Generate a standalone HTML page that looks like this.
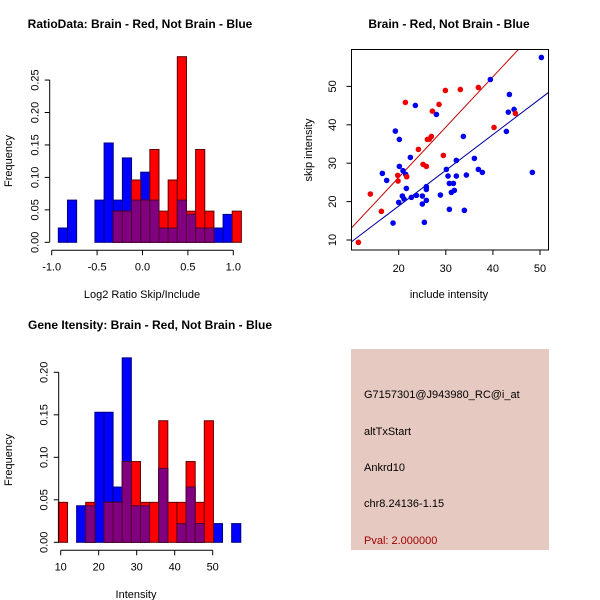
<!DOCTYPE html>
<html><head><meta charset="utf-8"><style>
body{margin:0;background:#fff}
svg{display:block;font-family:"Liberation Sans",Arial,sans-serif}
text{fill:#000}
</style></head><body>
<svg id="c" width="600" height="600" viewBox="0 0 600 600">
<text x="140" y="28" font-size="12" font-weight="bold" text-anchor="middle">RatioData: Brain - Red, Not Brain - Blue</text>
<text x="449" y="28" font-size="12" font-weight="bold" text-anchor="middle">Brain - Red, Not Brain - Blue</text>
<text x="150" y="329" font-size="12" font-weight="bold" text-anchor="middle">Gene Itensity: Brain - Red, Not Brain - Blue</text>
<text x="142" y="298" font-size="11" text-anchor="middle">Log2 Ratio Skip/Include</text>
<text transform="translate(12,161) rotate(-90)" font-size="11" text-anchor="middle">Frequency</text>
<text x="136" y="598" font-size="11" text-anchor="middle">Intensity</text>
<text transform="translate(12,460) rotate(-90)" font-size="11" text-anchor="middle">Frequency</text>
<text x="449" y="298" font-size="11" text-anchor="middle">include intensity</text>
<text transform="translate(312,150) rotate(-90)" font-size="11" text-anchor="middle">skip intensity</text>
<g>
<rect x="351" y="349" width="198" height="201" fill="#e6c9c0"/>
<text x="364" y="398" font-size="11">G7157301@J943980_RC@i_at</text>
<text x="364" y="435" font-size="11">altTxStart</text>
<text x="364" y="471" font-size="11">Ankrd10</text>
<text x="364" y="507" font-size="11">chr8.24136-1.15</text>
<text x="364" y="544" font-size="11" style="fill:#a00000">Pval: 2.000000</text>
</g>
</svg>
<script>
// Ratio histogram data
const ratioStart = -0.927, ratioWidth = 0.1008;
const ratioBlue = [0.022,0.065,0,0,0.065,0.153,0.065,0.130,0.065,0.108,0.065,0.022,0.022,0.065,0.043,0.022,0.022,0.022,0.043,0];
const ratioRed  = [0,0,0,0,0,0,0.048,0.048,0.096,0.065,0.143,0.048,0.096,0.286,0.048,0.143,0.048,0,0,0.048];
const ratioXTicks = [-1.0,-0.5,0.0,0.5,1.0];
const ratioXLabels = ["-1.0","-0.5","0.0","0.5","1.0"];
const ratioYTicks = [0,0.05,0.10,0.15,0.20,0.25];
const ratioYLabels = ["0.00","0.05","0.10","0.15","0.20","0.25"];
// Intensity histogram data
const intStart = 9.39, intWidth = 2.4;
const intBlue = [0,0,0.043,0.043,0.153,0.153,0.065,0.217,0.043,0.043,0,0.087,0,0.022,0.065,0.022,0,0.022,0,0.022];
const intRed  = [0.047,0,0,0.047,0,0.047,0.047,0.095,0.095,0.047,0.047,0.143,0.047,0.047,0.095,0.047,0.143,0,0,0];
const intXTicks = [10,20,30,40,50];
const intYTicks = [0,0.05,0.10,0.15,0.20];
const intYLabels = ["0.00","0.05","0.10","0.15","0.20"];
// Scatter data
const redX = [11.44,13.98,16.32,19.79,19.86,21.42,21.70,24.18,25.17,25.87,26.09,26.51,26.94,27.15,28.56,29.48,29.91,33.09,36.91,40.24,44.77];
const redY = [9.39,21.97,17.46,26.83,25.35,45.82,26.48,33.59,29.69,29.17,36.19,36.28,36.97,43.56,45.30,32.03,48.94,49.20,49.72,39.31,42.96];
const blueX = [50.29,39.46,43.50,43.28,44.49,42.86,23.54,28.00,19.29,20.14,33.73,22.48,32.24,36.07,30.12,36.91,37.76,16.53,17.45,20.14,20.92,21.49,21.63,30.47,32.24,34.37,30.76,31.61,31.18,31.82,25.87,25.87,20.78,21.13,20.00,22.69,23.75,25.02,25.02,25.87,28.85,30.76,33.94,18.80,25.45,48.38];
const blueY = [57.53,51.80,47.90,43.30,44.00,38.27,45.04,42.70,38.36,36.19,36.97,31.51,30.73,31.25,28.39,28.39,27.61,27.35,25.52,29.17,28.04,27.09,23.44,26.65,26.65,26.91,24.74,24.74,22.40,22.92,23.88,23.18,21.45,20.67,19.80,21.10,21.62,21.45,19.37,20.32,21.71,17.98,17.72,14.42,14.60,27.61];
const redFit = [0.07,1.311];   // intercept, slope
const blueFit = [0.25,0.930];
const scXTicks = [20,30,40,50];
const scYTicks = [10,20,30,40,50];

const NS="http://www.w3.org/2000/svg", svg=document.getElementById('c');
function mk(t,a,p){const e=document.createElementNS(NS,t);for(const k in a)e.setAttribute(k,a[k]);(p||svg).appendChild(e);return e;}

function hist(cfg){
  const g=mk('g',{});
  
  
  const X=v=>cfg.x0+(v-cfg.xv0)*cfg.xs, Y=v=>cfg.y0-v*cfg.ys;
  const draw=(arr,fill,nm)=>arr.forEach((v,i)=>{ if(v<=0)return;
    const a=X(cfg.start+i*cfg.w), b=X(cfg.start+(i+1)*cfg.w);
    const r=mk('rect',{x:a,y:Y(v),width:b-a,height:Y(0)-Y(v),fill:fill,stroke:nm==='blue'?'#000080':'#600000','stroke-width':1},g);
    
    
  });
  draw(cfg.blue,'#0000ff','blue');
  draw(cfg.red,'#ff0000','red');
  cfg.blue.forEach((v,i)=>{const m=Math.min(v,cfg.red[i]); if(m<=0)return;
    const a=X(cfg.start+i*cfg.w), b=X(cfg.start+(i+1)*cfg.w);
    const r=mk('rect',{x:a,y:Y(m),width:b-a,height:Y(0)-Y(m),fill:'#800080',stroke:'#500030','stroke-width':1},g);
    
    
  });
  const xa=mk('g',{stroke:'#000'},g);
  
  
  const ax=cfg.y0+8;
  mk('line',{x1:X(cfg.xt[0]),x2:X(cfg.xt[cfg.xt.length-1]),y1:ax,y2:ax},xa);
  cfg.xt.forEach((t,i)=>{mk('line',{x1:X(t),x2:X(t),y1:ax,y2:ax+5},xa);
    const tx=mk('text',{x:X(t),y:ax+20,'font-size':11,'text-anchor':'middle',stroke:'none'},xa);tx.textContent=cfg.xl[i];});
  const ya=mk('g',{stroke:'#000'},g);
  
  
  const yx=cfg.x0-2;
  mk('line',{x1:yx,x2:yx,y1:Y(cfg.yt[0]),y2:Y(cfg.yt[cfg.yt.length-1])},ya);
  cfg.yt.forEach((t,i)=>{mk('line',{x1:yx,x2:yx-5,y1:Y(t),y2:Y(t)},ya);
    const tx=mk('text',{transform:`translate(${yx-11},${Y(t)}) rotate(-90)`,'font-size':11,'text-anchor':'middle',stroke:'none'},ya);tx.textContent=cfg.yl[i];});
}
hist({name:'ratio-histogram',blue:ratioBlue,red:ratioRed,start:ratioStart,w:ratioWidth,x0:51.7,xv0:-1,xs:90.8,y0:242.3,ys:649,
  xt:ratioXTicks,xl:ratioXLabels,yt:ratioYTicks,yl:ratioYLabels});
hist({name:'intensity-histogram',blue:intBlue,red:intRed,start:intStart,w:intWidth,x0:60.7,xv0:10,xs:3.8,y0:542.3,ys:850,
  xt:intXTicks,xl:intXTicks.map(String),yt:intYTicks,yl:intYLabels});

// scatter
const SX=v=>398.7+(v-20)*4.71, SY=v=>240-(v-10)*3.84;
const sg=mk('g',{});


mk('rect',{x:351.5,y:49.5,width:197,height:200.5,fill:'none',stroke:'#000'},sg);
const cp=mk('clipPath',{id:'cl'},sg); mk('rect',{x:352,y:50,width:196,height:200},cp);
[[redFit,'#c00000','red-fit-line'],[blueFit,'#0000a0','blue-fit-line']].forEach(([f,c,n])=>{
  const l=mk('line',{x1:SX(5),y1:SY(f[0]+f[1]*5),x2:SX(60),y2:SY(f[0]+f[1]*60),stroke:c,'stroke-width':1,'clip-path':'url(#cl)'},sg);
  
  
});
blueX.forEach((x,i)=>{const c=mk('circle',{cx:SX(x),cy:SY(blueY[i]),r:2.8,fill:'#0000ee'},sg);
  
  });
redX.forEach((x,i)=>{const c=mk('circle',{cx:SX(x),cy:SY(redY[i]),r:2.8,fill:'#ee0000'},sg);
  
  });
const sxa=mk('g',{stroke:'#000'},sg);


scXTicks.forEach(t=>{mk('line',{x1:SX(t),x2:SX(t),y1:250,y2:255},sxa);
  const tx=mk('text',{x:SX(t),y:272,'font-size':11,'text-anchor':'middle',stroke:'none'},sxa);tx.textContent=t;});
const sya=mk('g',{stroke:'#000'},sg);


scYTicks.forEach(t=>{mk('line',{x1:351.5,x2:346.5,y1:SY(t),y2:SY(t)},sya);
  const tx=mk('text',{transform:`translate(336,${SY(t)}) rotate(-90)`,'font-size':11,'text-anchor':'middle',stroke:'none'},sya);tx.textContent=t;});
</script>
</body></html>
